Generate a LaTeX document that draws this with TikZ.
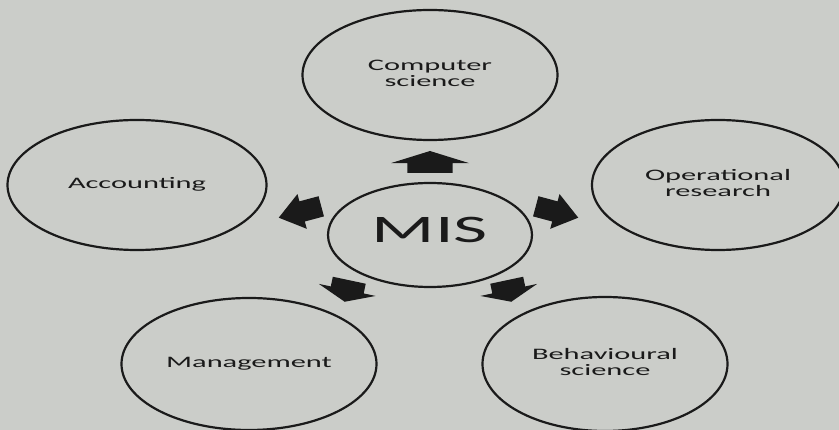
\documentclass[tikz,border=0pt]{standalone}
\usepackage{fontspec}
\setmainfont{Carlito}
\usepackage{graphicx}
\usetikzlibrary{shapes.geometric}

\definecolor{paper}{RGB}{203,205,201}
\definecolor{ink}{RGB}{26,26,26}

\newcommand{\wide}[1]{% stretched label, lines split by \\
	\scalebox{1.9}[1]{\begin{tabular}{@{}c@{}}#1\end{tabular}}}
\newcommand{\fatarrow}[5]{   % x, y, angle, length, head width
	\fill[ink, shift={(#1,#2)}, rotate=#3]
		({-#4/2}, {-0.29*#5}) -- ({-0.05*#4}, {-0.29*#5}) -- ({-0.05*#4}, {-#5/2})
		-- ({#4/2}, 0) -- ({-0.05*#4}, {#5/2}) -- ({-0.05*#4}, {0.29*#5})
		-- ({-#4/2}, {0.29*#5}) -- cycle;
}

\tikzset{
	topic/.style={ellipse, draw=ink, line width=2.2pt, text=ink, inner sep=0pt,
		font=\fontsize{16}{16}\selectfont},
}

\begin{document}
\begin{tikzpicture}[x=1pt, y=-1pt]

\fill[paper] (0,0) rectangle (839,430);
\useasboundingbox (0,0) rectangle (839,430);

% the five fields round the centre
\node[topic, minimum width=255, minimum height=130] (comp) at (430,75) {\wide{Computer\\science}};
\node[topic, minimum width=259, minimum height=130] (acc) at (137,185) {\wide{Accounting}};
\node[topic, minimum width=252, minimum height=130] (opres) at (718,185) {\wide{Operational\\research}};
\node[topic, minimum width=255, minimum height=132] (mgmt) at (249,364) {\wide{Management}};
\node[topic, minimum width=245, minimum height=134] (behav) at (605,364) {\wide{Behavioural\\science}};

\node[topic, minimum width=204, minimum height=104, font=\fontsize{39}{39}\selectfont] (mis) at (430,235) {\wide{MIS}};

% block arrows out of MIS
\fatarrow{430}{162}{90}{22}{78}
\fatarrow{300}{212}{195}{44}{36}
\fatarrow{557}{212}{-15}{44}{36}
\fatarrow{347}{291}{258}{22}{58}
\fatarrow{509}{291}{282}{22}{58}

\end{tikzpicture}
\end{document}
